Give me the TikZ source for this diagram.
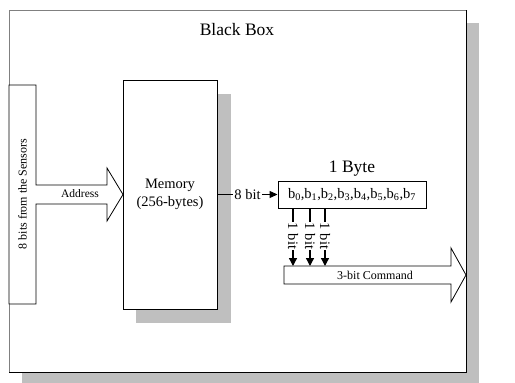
\documentclass[tikz,border=0pt]{standalone}
\usepackage{fontspec}
\setmainfont{Liberation Serif}
\usetikzlibrary{arrows.meta}
\begin{document}
\begin{tikzpicture}[x=1pt,y=-1pt,
  shadowfill/.style={fill=black!25,draw=none},
  block/.style={draw=black,fill=white,line width=0.9pt,inner sep=0pt},
  fatarrow/.style={draw=black,fill=white,line width=0.8pt,line join=miter},
  bitline/.style={line width=1.3pt,-{Triangle[width=8pt,length=8pt]}},
  txt/.style={font=\fontsize{14.5}{18}\selectfont},
  bigtxt/.style={font=\fontsize{17.5}{20}\selectfont},
  smalltxt/.style={font=\fontsize{12}{14}\selectfont}]
\useasboundingbox (0,0) rectangle (515,383);
\fill[white] (0,0) rectangle (515,383);

% outer box with drop shadow
\fill[shadowfill] (21.5,22.5) rectangle (479,383);
\fill[white] (9,10) rectangle (466,372);
\draw[black!50,line width=1pt] (9,372) -- (9,10) -- (466,10);
\draw[black,line width=1pt] (466,10) -- (466,372) -- (9,372);
\node[bigtxt] (title) at (237,30) {Black Box};

% sensor input block with its address arrow
\draw[fatarrow] (9,85) -- (36,85) -- (36,185) -- (107,185) -- (107,168)
  -- (123,194.5) -- (107,221) -- (107,204) -- (36,204) -- (36,304)
  -- (9,304) -- cycle;
\node[smalltxt,rotate=90] (sensors) at (22.5,194) {8 bits from the Sensors};
\node[font=\fontsize{11.5}{13}\selectfont] (addr) at (80,194) {Address};

% memory with drop shadow
\fill[shadowfill] (136,94) rectangle (231,323);
\node[block,minimum width=94pt,minimum height=229pt,align=center,txt]
  (mem) at (170,194.5) {Memory\\(256-bytes)};

% one byte register
\node[block,minimum width=148pt,minimum height=27pt,txt]
  (byte) at (352,194.5)
  {b\textsubscript{0},b\textsubscript{1},b\textsubscript{2},b\textsubscript{3},b\textsubscript{4},b\textsubscript{5},b\textsubscript{6},b\textsubscript{7}};
\node[bigtxt] (bytelbl) at (352,169) {1 Byte};

\draw[line width=1.1pt,-{Triangle[width=7pt,length=8pt]}] (mem.east) --
  node[fill=white,inner sep=1pt,txt] (eight) {8 bit} (byte.west);

% command output arrow
\draw[fatarrow] (284,266) -- (451,266) -- (451,248) -- (466,275)
  -- (451,302) -- (451,284) -- (284,284) -- cycle;
\node[smalltxt] (cmd) at (375,275) {3-bit Command};
\coordinate (c1) at (293,266);
\coordinate (c2) at (310,266);
\coordinate (c3) at (325,266);

\foreach \i in {1,2,3}{
  \draw[bitline] (c\i |- byte.south) -- node[pos=0.48,fill=white,inner sep=1pt,
    rotate=-90,txt] (bit\i) {1 bit} (c\i);
}
\end{tikzpicture}
\end{document}
